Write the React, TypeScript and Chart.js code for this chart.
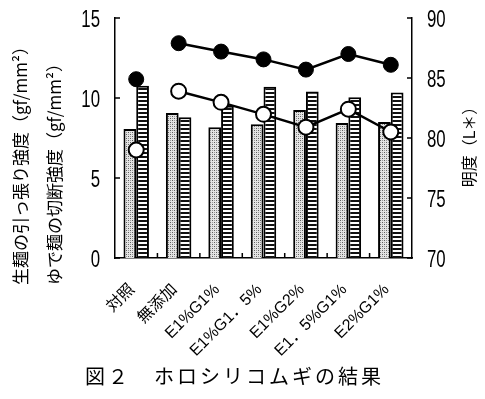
import React, { useEffect, useRef } from 'react';
import { Chart, registerables } from 'chart.js';
Chart.register(...registerables);

const categories = ['対照', '無添加', 'E1%G1%', 'E1%G1．5%', 'E1%G2%', 'E1．5%G1%', 'E2%G1%'];
const rawStrength = [8.07, 9.07, 8.17, 8.36, 9.25, 8.44, 8.5];
const cookedStrength = [10.77, 8.8, 9.52, 10.7, 10.41, 10.04, 10.35];
const rawLightness = [84.9, 87.9, 87.2, 86.55, 85.7, 87.0, 86.1];
const cookedLightness = [79.0, 83.9, 82.97, 81.97, 80.9, 82.4, 80.5];
const leftTitle1 = '生麺の引っ張り強度（gf/mm²）';
const leftTitle2 = 'ゆで麺の切断強度（gf/mm²）';
const rightTitle = '明度（L＊）';
const caption = '図２　ホロシリコムギの結果';

const NUM_FONT = "'Liberation Sans', Arial, sans-serif";
const LABEL_FONT = "'Liberation Sans', 'Noto Sans CJK JP', sans-serif";
const CJK_FONT = "'Noto Sans CJK JP', sans-serif";

function makeDots(): CanvasPattern | string {
  const c = document.createElement('canvas');
  c.width = 4; c.height = 4;
  const g = c.getContext('2d');
  if (!g) return '#ccc';
  g.fillStyle = '#e4e4e4';
  g.fillRect(0, 0, 4, 4);
  g.fillStyle = '#5e5e5e';
  g.fillRect(0, 0, 1, 1);
  g.fillRect(2, 2, 1, 1);
  g.fillStyle = '#9a9a9a';
  g.fillRect(2, 0, 1, 1);
  g.fillRect(0, 2, 1, 1);
  return g.createPattern(c, 'repeat') || '#ccc';
}

function makeStripes(): CanvasPattern | string {
  const c = document.createElement('canvas');
  c.width = 4; c.height = 4;
  const g = c.getContext('2d');
  if (!g) return '#888';
  g.fillStyle = '#ffffff';
  g.fillRect(0, 0, 4, 4);
  g.fillStyle = '#111111';
  g.fillRect(0, 0, 4, 2);
  return g.createPattern(c, 'repeat') || '#888';
}

function drawCondensed(ctx: CanvasRenderingContext2D, text: string, x: number, y: number, align: 'left' | 'right', sx: number) {
  ctx.save();
  ctx.translate(x, y);
  ctx.scale(sx, 1);
  ctx.textAlign = align;
  ctx.textBaseline = 'middle';
  ctx.fillText(text, 0, 0);
  ctx.restore();
}

const decor = {
  id: 'decor',
  afterDraw(chart: any) {
    const { ctx, chartArea, scales } = chart;
    const { left, right, bottom } = chartArea;
    ctx.save();
    ctx.strokeStyle = '#000';
    ctx.lineWidth = 1.5;
    ctx.beginPath();
    const xs = scales.x;
    for (let i = 1; i < categories.length; i++) {
      const px = (xs.getPixelForTick(i - 1) + xs.getPixelForTick(i)) / 2;
      ctx.moveTo(px, bottom);
      ctx.lineTo(px, bottom - 5);
    }
    scales.y.ticks.forEach((_t: any, i: number) => {
      const py = scales.y.getPixelForTick(i);
      ctx.moveTo(left, py);
      ctx.lineTo(left + 5, py);
    });
    scales.y1.ticks.forEach((_t: any, i: number) => {
      const py = scales.y1.getPixelForTick(i);
      ctx.moveTo(right, py);
      ctx.lineTo(right - 5, py);
    });
    ctx.stroke();

    ctx.fillStyle = '#000';
    // y tick labels (narrow face)
    ctx.font = `24px ${NUM_FONT}`;
    scales.y.ticks.forEach((t: any, i: number) => {
      drawCondensed(ctx, String(t.value), left - 15, scales.y.getPixelForTick(i) + 2, 'right', 0.7);
    });
    scales.y1.ticks.forEach((t: any, i: number) => {
      drawCondensed(ctx, String(t.value), right + 15, scales.y1.getPixelForTick(i) + 2, 'left', 0.7);
    });

    // category labels, rotated 45 degrees
    ctx.font = `16px ${LABEL_FONT}`;
    categories.forEach((lab, i) => {
      const px = xs.getPixelForTick(i);
      ctx.save();
      ctx.translate(px - 4, bottom + 29);
      ctx.rotate(-Math.PI / 4);
      ctx.textAlign = 'right';
      ctx.textBaseline = 'middle';
      ctx.fillText(lab, 0, 0);
      ctx.restore();
    });

    // axis titles
    ctx.textAlign = 'left';
    ctx.textBaseline = 'middle';
    ctx.font = `17px ${CJK_FONT}`;
    ctx.save();
    ctx.translate(21, 285);
    ctx.rotate(-Math.PI / 2);
    ctx.fillText(leftTitle1, 0, 0);
    ctx.restore();
    ctx.save();
    ctx.translate(55, 285);
    ctx.rotate(-Math.PI / 2);
    ctx.fillText(leftTitle2, 0, 0);
    ctx.restore();
    ctx.save();
    ctx.font = `16px ${CJK_FONT}`;
    ctx.textAlign = 'center';
    ctx.translate(469, 143);
    ctx.rotate(-Math.PI / 2);
    ctx.fillText(rightTitle, 0, 0);
    ctx.restore();
    ctx.restore();
  },
};

export default function App() {
  const ref = useRef<HTMLCanvasElement | null>(null);
  useEffect(() => {
    if (!ref.current) return;
    const dots = makeDots();
    const stripes = makeStripes();
    const lineSeg = {
      borderColor: (c: any) => (c.p0DataIndex === 0 ? 'rgba(0,0,0,0)' : '#000'),
    };
    const chart = new Chart(ref.current, {
      type: 'bar',
      data: {
        labels: categories,
        datasets: [
          {
            type: 'line',
            label: '生麺の明度',
            data: rawLightness,
            yAxisID: 'y1',
            borderColor: '#000',
            borderWidth: 2.5,
            pointRadius: 7.5,
            pointBackgroundColor: '#000',
            pointBorderColor: '#000',
            pointBorderWidth: 1,
            segment: lineSeg,
            order: 0,
          } as any,
          {
            type: 'line',
            label: 'ゆで麺の明度',
            data: cookedLightness,
            yAxisID: 'y1',
            borderColor: '#000',
            borderWidth: 2.5,
            pointRadius: 7.5,
            pointBackgroundColor: '#fff',
            pointBorderColor: '#000',
            pointBorderWidth: 2,
            segment: lineSeg,
            order: 0,
          } as any,
          {
            label: '生麺の引っ張り強度',
            data: rawStrength,
            yAxisID: 'y',
            backgroundColor: dots as any,
            borderColor: '#000',
            borderWidth: 2,
            borderSkipped: 'bottom',
            categoryPercentage: 0.6,
            barPercentage: 1,
            order: 1,
          },
          {
            label: 'ゆで麺の切断強度',
            data: cookedStrength,
            yAxisID: 'y',
            backgroundColor: stripes as any,
            borderColor: '#000',
            borderWidth: 2,
            borderSkipped: 'bottom',
            categoryPercentage: 0.6,
            barPercentage: 1,
            order: 1,
          },
        ],
      },
      options: {
        responsive: false,
        animation: false,
        layout: { padding: { top: 18, left: 0, right: 0, bottom: 0 } },
        plugins: { legend: { display: false }, tooltip: { enabled: false }, title: { display: false } },
        scales: {
          x: {
            offset: true,
            grid: { display: false, drawTicks: false },
            border: { display: true, color: '#000', width: 1.5 },
            ticks: { display: false, autoSkip: false },
            afterFit: (s: any) => { s.height = 399 - 258; },
          },
          y: {
            position: 'left',
            min: 0,
            max: 15,
            grid: { display: false, drawTicks: false },
            border: { display: true, color: '#000', width: 1.5 },
            ticks: { display: false, stepSize: 5 },
            afterFit: (s: any) => { s.width = 115; },
          },
          y1: {
            position: 'right',
            min: 70,
            max: 90,
            grid: { display: false, drawTicks: false },
            border: { display: true, color: '#000', width: 1.5 },
            ticks: { display: false, stepSize: 5 },
            afterFit: (s: any) => { s.width = 485 - 412; },
          },
        },
      },
      plugins: [decor],
    });
    return () => chart.destroy();
  }, []);

  return (
    <div style={{ position: 'absolute', left: 0, top: 0, width: 485, height: 399, background: '#fff' }}>
      <canvas ref={ref} width={485} height={399} style={{ display: 'block', width: 485, height: 399 }} />
      <div
        style={{
          position: 'absolute',
          left: 85,
          top: 365,
          fontFamily: CJK_FONT,
          fontSize: 20,
          lineHeight: '22px',
          letterSpacing: '3px',
          whiteSpace: 'nowrap',
          color: '#000',
        }}
      >
        {caption}
      </div>
    </div>
  );
}
